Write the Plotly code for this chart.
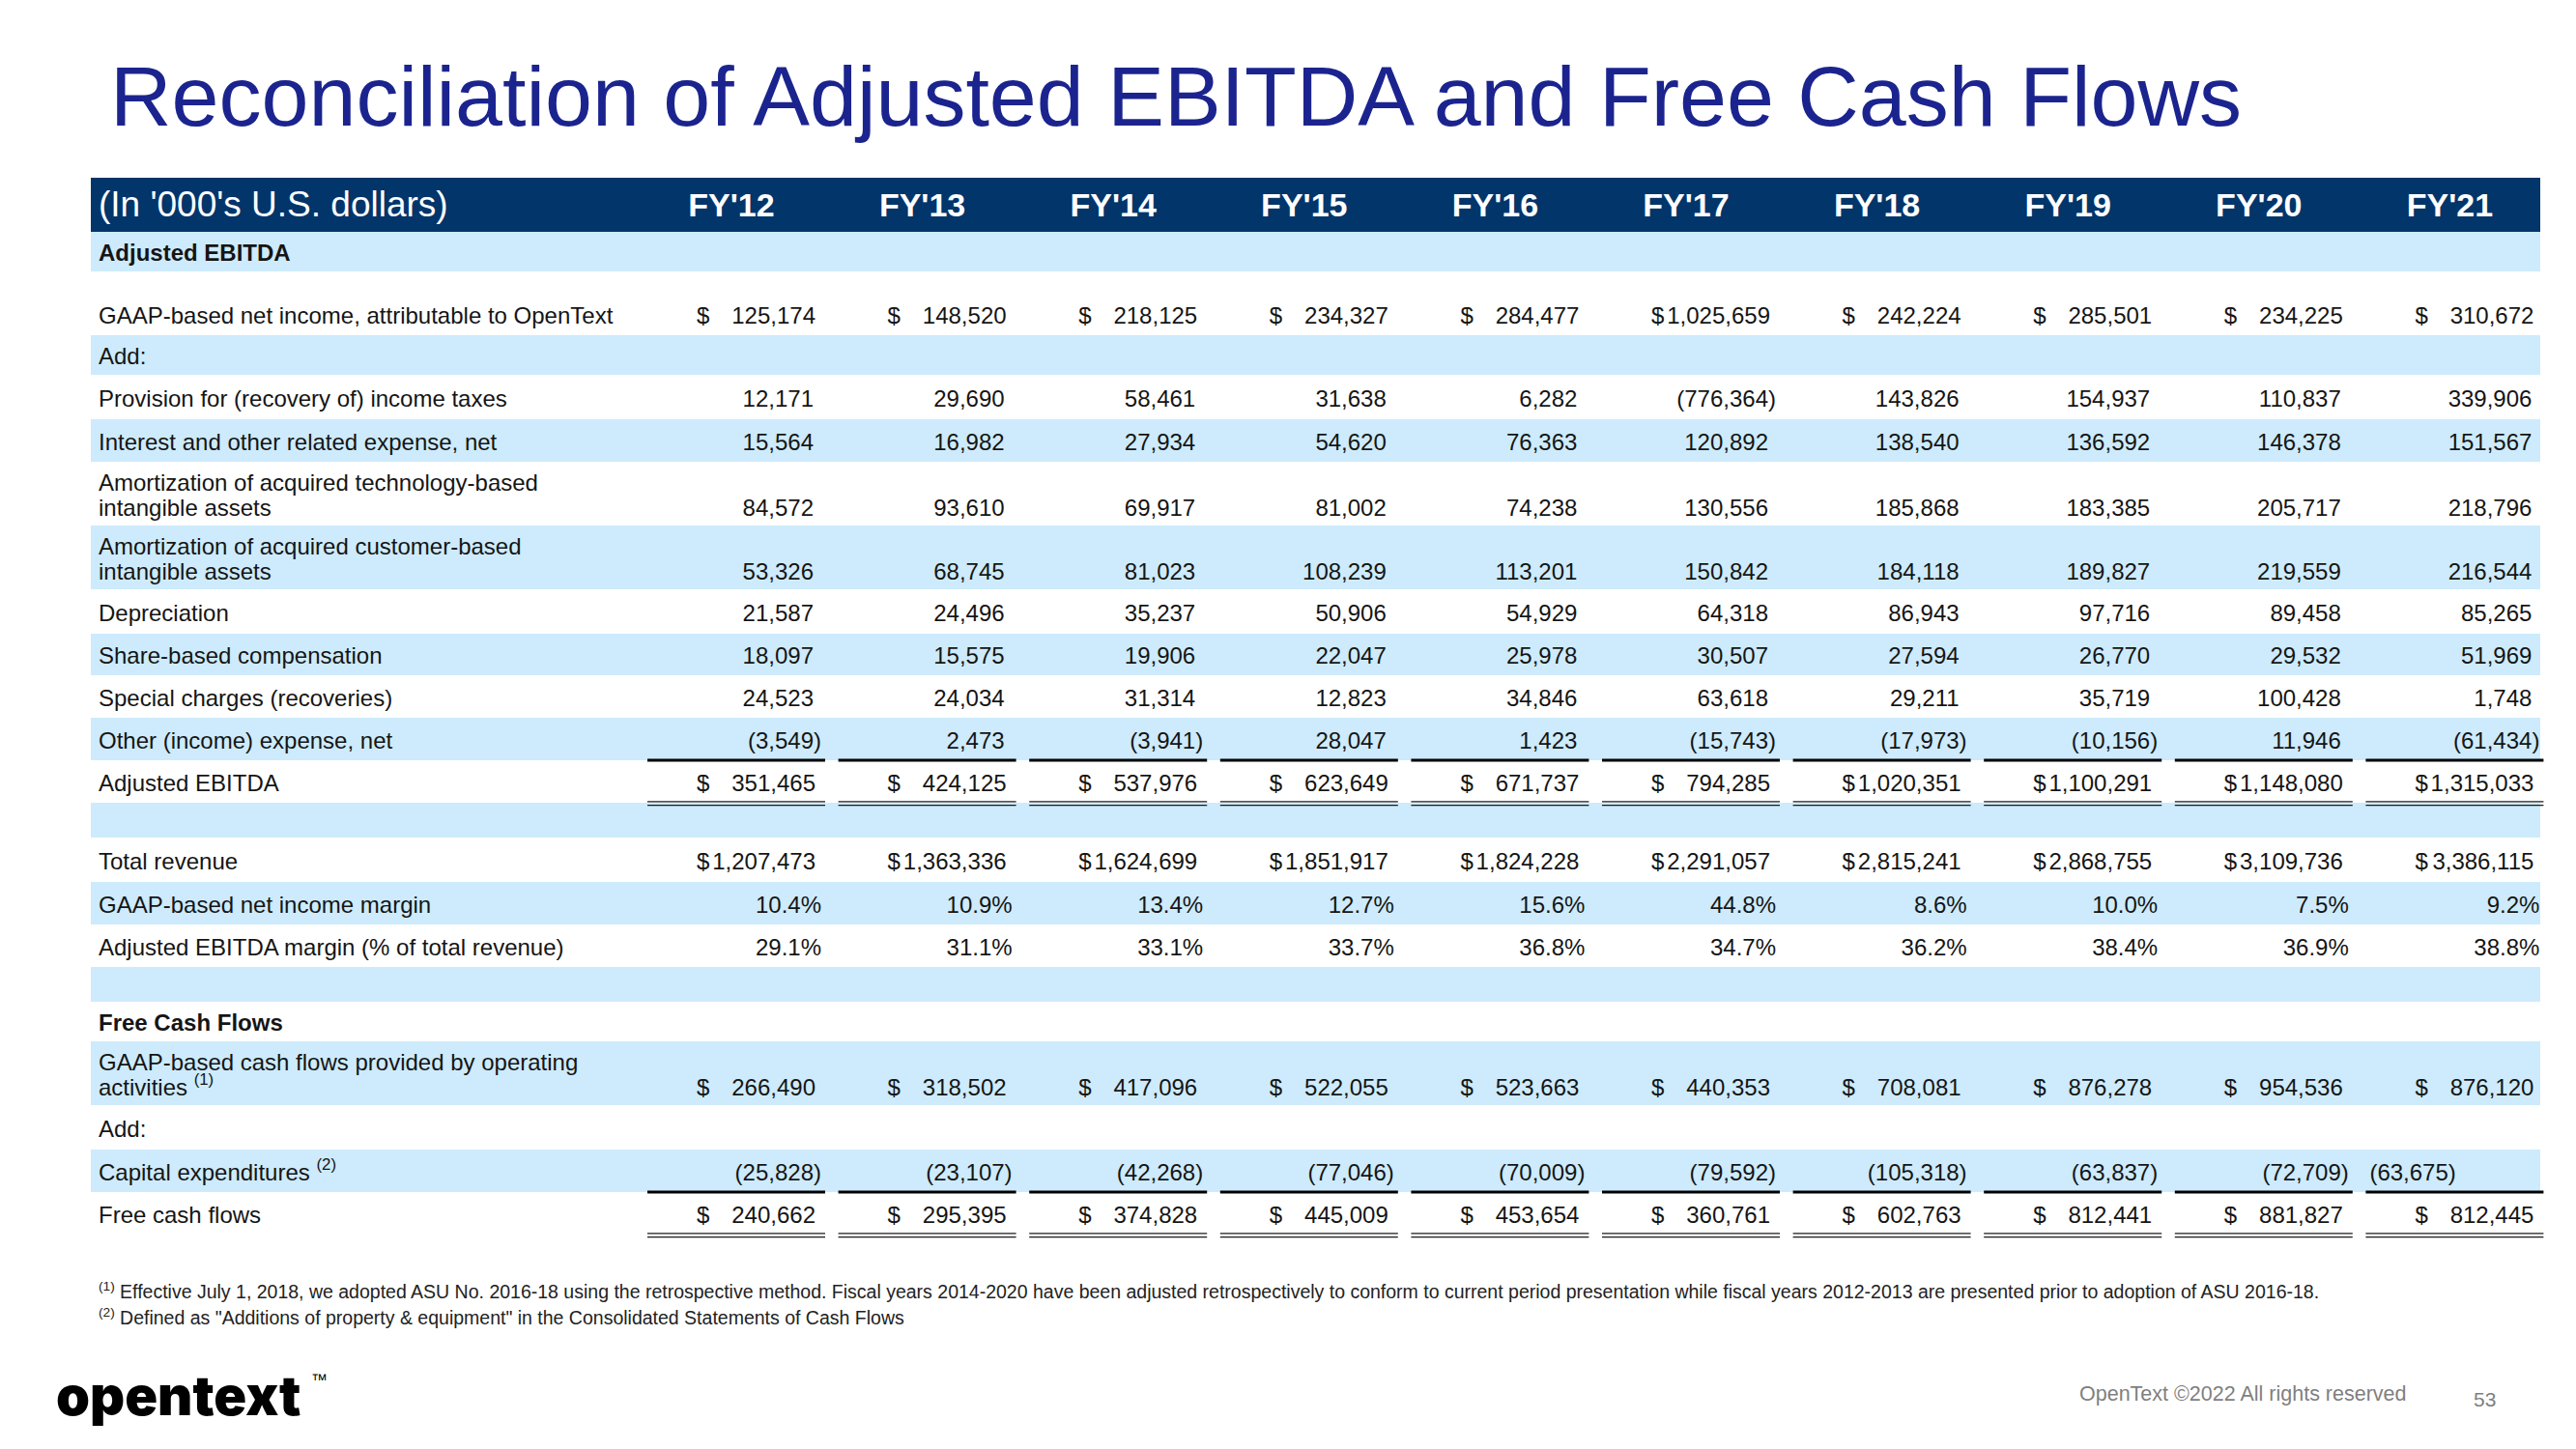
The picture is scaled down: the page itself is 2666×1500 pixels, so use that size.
import plotly.graph_objects as go

# ---------------- data ----------------
years = ["FY'12", "FY'13", "FY'14", "FY'15", "FY'16", "FY'17", "FY'18", "FY'19", "FY'20", "FY'21"]

net_income = [125174, 148520, 218125, 234327, 284477, 1025659, 242224, 285501, 234225, 310672]
income_taxes = [12171, 29690, 58461, 31638, 6282, -776364, 143826, 154937, 110837, 339906]
interest_expense = [15564, 16982, 27934, 54620, 76363, 120892, 138540, 136592, 146378, 151567]
amort_technology = [84572, 93610, 69917, 81002, 74238, 130556, 185868, 183385, 205717, 218796]
amort_customer = [53326, 68745, 81023, 108239, 113201, 150842, 184118, 189827, 219559, 216544]
depreciation = [21587, 24496, 35237, 50906, 54929, 64318, 86943, 97716, 89458, 85265]
share_based_comp = [18097, 15575, 19906, 22047, 25978, 30507, 27594, 26770, 29532, 51969]
special_charges = [24523, 24034, 31314, 12823, 34846, 63618, 29211, 35719, 100428, 1748]
other_income_expense = [-3549, 2473, -3941, 28047, 1423, -15743, -17973, -10156, 11946, -61434]
adjusted_ebitda = [351465, 424125, 537976, 623649, 671737, 794285, 1020351, 1100291, 1148080, 1315033]
total_revenue = [1207473, 1363336, 1624699, 1851917, 1824228, 2291057, 2815241, 2868755, 3109736, 3386115]
net_income_margin = [10.4, 10.9, 13.4, 12.7, 15.6, 44.8, 8.6, 10.0, 7.5, 9.2]
ebitda_margin = [29.1, 31.1, 33.1, 33.7, 36.8, 34.7, 36.2, 38.4, 36.9, 38.8]
operating_cash_flows = [266490, 318502, 417096, 522055, 523663, 440353, 708081, 876278, 954536, 876120]
capital_expenditures = [-25828, -23107, -42268, -77046, -70009, -79592, -105318, -63837, -72709, -63675]
free_cash_flows = [240662, 295395, 374828, 445009, 453654, 360761, 602763, 812441, 881827, 812445]
capex_alignment = ["right"] * 9 + ["left"]

header_label = "(In '000's U.S. dollars)"
title_text = "Reconciliation of Adjusted EBITDA and Free Cash Flows"
footnote_1 = ("<sup>(1)</sup> Effective July 1, 2018, we adopted ASU No. 2016-18 using the retrospective method. "
              "Fiscal years 2014-2020 have been adjusted retrospectively to conform to current period presentation "
              "while fiscal years 2012-2013 are presented prior to adoption of ASU 2016-18.")
footnote_2 = "<sup>(2)</sup> Defined as \"Additions of property &amp; equipment\" in the Consolidated Statements of Cash Flows"

# ---------------- style / layout ----------------
W, H = 2666, 1500
PAGE_PAD = 8       # default body margin of the html page
FONT = "Liberation Sans, Arial, sans-serif"
FS = 24
NAVY = "#02356a"
LIGHT = "#cdebfc"
TITLE_BLUE = "#1b248e"
INK = "#151515"

LABEL_X = 102
COL_R0 = 842
COL_STEP = 197.6
BAND_X0, BAND_X1 = 94, 2629
HEADER_TOP, HEADER_BOT = 184, 240
PAREN = 8          # closing parenthesis / percent hang
DOLLAR_OFF = 121   # $ sign left edge offset from column right
LEFT_CELL_OFF = 168
UL_LEFT, UL_RIGHT = 172, 12
LINE_GAP = 13      # half line spacing for two-line labels
TXT_DY = 3.5

rows = [
    dict(label="<b>Adjusted EBITDA</b>", h=41, shade=True),
    dict(label="", h=22, shade=False),
    dict(label="GAAP-based net income, attributable to OpenText", values=net_income, fmt="dollar", h=44, shade=False),
    dict(label="Add:", h=41, shade=True),
    dict(label="Provision for (recovery of) income taxes", values=income_taxes, fmt="num", h=46, shade=False),
    dict(label="Interest and other related expense, net", values=interest_expense, fmt="num", h=44, shade=True),
    dict(label="Amortization of acquired technology-based<br>intangible assets", values=amort_technology, fmt="num", h=66, shade=False),
    dict(label="Amortization of acquired customer-based<br>intangible assets", values=amort_customer, fmt="num", h=66, shade=True),
    dict(label="Depreciation", values=depreciation, fmt="num", h=46, shade=False),
    dict(label="Share-based compensation", values=share_based_comp, fmt="num", h=43, shade=True),
    dict(label="Special charges (recoveries)", values=special_charges, fmt="num", h=44, shade=False),
    dict(label="Other (income) expense, net", values=other_income_expense, fmt="num", h=44, shade=True, rule="single"),
    dict(label="Adjusted EBITDA", values=adjusted_ebitda, fmt="dollar", h=44, shade=False, rule="double"),
    dict(label="", h=36, shade=True),
    dict(label="Total revenue", values=total_revenue, fmt="dollar", h=46, shade=False),
    dict(label="GAAP-based net income margin", values=net_income_margin, fmt="pct", h=44, shade=True),
    dict(label="Adjusted EBITDA margin (% of total revenue)", values=ebitda_margin, fmt="pct", h=44, shade=False),
    dict(label="", h=36, shade=True),
    dict(label="<b>Free Cash Flows</b>", h=41, shade=False),
    dict(label="GAAP-based cash flows provided by operating<br>activities <sup>(1)</sup>", values=operating_cash_flows, fmt="dollar", h=66, shade=True),
    dict(label="Add:", h=46, shade=False),
    dict(label="Capital expenditures <sup>(2)</sup>", values=capital_expenditures, fmt="num", h=44, shade=True,
         rule="single", align=capex_alignment),
    dict(label="Free cash flows", values=free_cash_flows, fmt="dollar", h=44, shade=False, rule="double"),
]


def col_right(i):
    return COL_R0 + i * COL_STEP


def fmt_value(v, kind):
    if kind == "pct":
        return f"{v:.1f}%", PAREN
    if v < 0:
        return f"({abs(v):,})", PAREN
    return f"{v:,}", (2 if kind == "dollar" else 0)


fig = go.Figure()
shapes = []

# header band
shapes.append(dict(type="rect", xref="x", yref="y", x0=BAND_X0, x1=BAND_X1, y0=HEADER_TOP, y1=HEADER_BOT,
                   fillcolor=NAVY, line=dict(width=0), layer="below"))

lab_x, lab_y, lab_t = [], [], []
val_cols = [dict(x=[], y=[], t=[], p=[]) for _ in years]
dol_x, dol_y = [], []

top = HEADER_BOT
for r in rows:
    bot = top + r["h"]
    mid = (top + bot) / 2
    if r["shade"]:
        shapes.append(dict(type="rect", xref="x", yref="y", x0=BAND_X0, x1=BAND_X1, y0=top, y1=bot,
                           fillcolor=LIGHT, line=dict(width=0), layer="below"))
    lines = r["label"].split("<br>") if r["label"] else []
    if len(lines) == 2:
        ys = [mid - LINE_GAP + TXT_DY, mid + LINE_GAP + TXT_DY]
        val_y = mid + LINE_GAP + TXT_DY
    else:
        ys = [mid + TXT_DY]
        val_y = mid + TXT_DY
    for ln, yy in zip(lines, ys):
        lab_x.append(LABEL_X)
        lab_y.append(yy)
        lab_t.append(ln)
    if "values" in r:
        aligns = r.get("align", ["right"] * len(years))
        for i, v in enumerate(r["values"]):
            txt, hang = fmt_value(v, r["fmt"])
            R = col_right(i)
            c = val_cols[i]
            if aligns[i] == "left":
                c["x"].append(R - LEFT_CELL_OFF)
                c["p"].append("middle right")
            else:
                c["x"].append(R + hang)
                c["p"].append("middle left")
            c["y"].append(val_y)
            c["t"].append(txt)
            if r["fmt"] == "dollar":
                dol_x.append(R - DOLLAR_OFF)
                dol_y.append(val_y)
            rule = r.get("rule")
            if rule == "single":
                shapes.append(dict(type="line", xref="x", yref="y", x0=R - UL_LEFT, x1=R + UL_RIGHT, y0=bot, y1=bot,
                                   line=dict(color="#000000", width=3.2)))
            elif rule == "double":
                for dy in (-1.2, 2.6):
                    shapes.append(dict(type="line", xref="x", yref="y", x0=R - UL_LEFT, x1=R + UL_RIGHT,
                                       y0=bot + dy, y1=bot + dy, line=dict(color="#1a1a1a", width=1.3)))
    top = bot

text_font = dict(family=FONT, size=FS, color=INK)

fig.add_trace(go.Scatter(x=lab_x, y=lab_y, text=lab_t, mode="text", textposition="middle right",
                         textfont=text_font, hoverinfo="skip", showlegend=False, cliponaxis=False))
for i, c in enumerate(val_cols):
    fig.add_trace(go.Scatter(x=c["x"], y=c["y"], text=c["t"], mode="text", textposition=c["p"],
                             textfont=text_font, hoverinfo="skip", showlegend=False, cliponaxis=False,
                             name=years[i]))
fig.add_trace(go.Scatter(x=dol_x, y=dol_y, text=["$"] * len(dol_x), mode="text", textposition="middle right",
                         textfont=text_font, hoverinfo="skip", showlegend=False, cliponaxis=False))

# header texts
hdr_mid = (HEADER_TOP + HEADER_BOT) / 2 + 3
fig.add_trace(go.Scatter(x=[LABEL_X], y=[hdr_mid], text=[header_label], mode="text", textposition="middle right",
                         textfont=dict(family=FONT, size=37, color="white"),
                         hoverinfo="skip", showlegend=False, cliponaxis=False))
fig.add_trace(go.Scatter(x=[col_right(i) - 85 for i in range(len(years))], y=[hdr_mid] * len(years),
                         text=[f"<b>{y}</b>" for y in years], mode="text", textposition="middle center",
                         textfont=dict(family=FONT, size=34, color="white"),
                         hoverinfo="skip", showlegend=False, cliponaxis=False))

annotations = [
    dict(text=title_text, x=112, y=99, xref="x", yref="y", xanchor="left", yanchor="middle", showarrow=False,
         font=dict(family=FONT, size=88, color=TITLE_BLUE)),
    dict(text=footnote_1, x=100, y=1336, xref="x", yref="y", xanchor="left", yanchor="middle", showarrow=False,
         font=dict(family=FONT, size=19.5, color="#222222")),
    dict(text=footnote_2, x=100, y=1363, xref="x", yref="y", xanchor="left", yanchor="middle", showarrow=False,
         font=dict(family=FONT, size=19.5, color="#222222")),
    dict(text="opentext", x=56, y=1445, xref="x", yref="y", xanchor="left", yanchor="middle", showarrow=False,
         font=dict(family="Inter, Lato, Liberation Sans, Arial, sans-serif", size=56, color="#000000", weight=900)),
    dict(text="™", x=320, y=1428, xref="x", yref="y", xanchor="left", yanchor="middle", showarrow=False,
         font=dict(family=FONT, size=17, color="#000000")),
    dict(text="OpenText ©2022 All rights reserved", x=2150, y=1443, xref="x", yref="y", xanchor="left",
         yanchor="middle", showarrow=False, font=dict(family=FONT, size=21.5, color="#7f7f7f")),
    dict(text="53", x=2558, y=1448, xref="x", yref="y", xanchor="left", yanchor="middle", showarrow=False,
         font=dict(family=FONT, size=21, color="#7f7f7f")),
]

fig.update_layout(
    width=W, height=H,
    margin=dict(l=0, r=0, t=0, b=0),
    paper_bgcolor="white", plot_bgcolor="white",
    xaxis=dict(range=[PAGE_PAD, W + PAGE_PAD], visible=False, fixedrange=True),
    yaxis=dict(range=[H + PAGE_PAD, PAGE_PAD], visible=False, fixedrange=True),
    shapes=shapes,
    annotations=annotations,
    showlegend=False,
)

fig.write_html("out.html")
